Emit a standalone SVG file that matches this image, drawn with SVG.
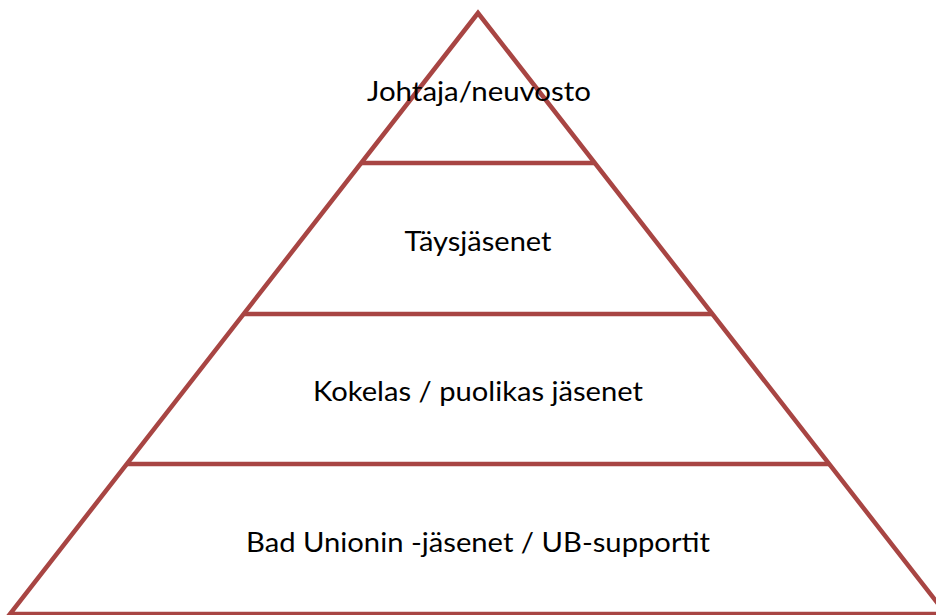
<svg xmlns="http://www.w3.org/2000/svg" width="936" height="615" viewBox="0 0 936 615">
<style>
.edge{stroke:#A84543;stroke-width:4.5;fill:none;stroke-linejoin:miter}
.lbl{font-family:Lato,"Open Sans","Liberation Sans",sans-serif;font-size:27px;fill:#000;text-anchor:middle}
</style>
<rect width="936" height="615" fill="#fff"/>
<g id="connectors">
<polygon class="edge" points="478,13 10,614 946,614"/>
<line class="edge" x1="361" y1="163" x2="595" y2="163"/>
<line class="edge" x1="243.6" y1="314" x2="712.4" y2="314"/>
<line class="edge" x1="126.8" y1="464" x2="829.2" y2="464"/>
</g>
<g id="n1"><text class="lbl" x="479" y="101" textLength="224" lengthAdjust="spacingAndGlyphs">Johtaja/neuvosto</text></g>
<g id="n2"><text class="lbl" x="478" y="251" textLength="147" lengthAdjust="spacingAndGlyphs">Täysjäsenet</text></g>
<g id="n3"><text class="lbl" x="478" y="401" textLength="330" lengthAdjust="spacingAndGlyphs">Kokelas / puolikas jäsenet</text></g>
<g id="n4"><text class="lbl" x="478" y="552" textLength="464" lengthAdjust="spacingAndGlyphs">Bad Unionin -jäsenet / UB-supportit</text></g>
</svg>
